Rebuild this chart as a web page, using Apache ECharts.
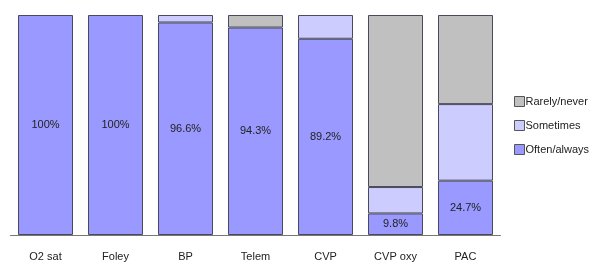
<!DOCTYPE html>
<html><head><meta charset="utf-8">
<script src="https://cdn.jsdelivr.net/npm/echarts@6/dist/echarts.min.js"></script>
<style>html,body{margin:0;padding:0;background:#fff}#c{width:601px;height:274px}</style>
</head><body><div id="c"></div>
<script>
const categories = ['O2 sat','Foley','BP','Telem','CVP','CVP oxy','PAC'];
const oftenAlways = [100, 100, 96.6, 94.3, 89.2, 9.8, 24.7];
const sometimes = [0, 0, 3.4, 0, 10.8, 12.0, 34.8];
const rarelyNever = [0, 0, 0, 5.7, 0, 78.2, 40.5];

const font = 'Liberation Sans';
const nz = arr => arr.map(v => v === 0 ? '-' : v);
const chart = echarts.init(document.getElementById('c'));
const common = {type:'bar', stack:'s', barWidth:55};
const border = {borderColor:'#4a4a5a', borderWidth:1};
chart.setOption({
  animation:false,
  grid:{left:10.5, top:15, width:490, height:220},
  legend:{orient:'vertical', left:509, top:91, itemWidth:10, itemHeight:10, itemGap:13, icon:'rect',
    data:['Rarely/never','Sometimes','Often/always'],
    textStyle:{fontFamily:font, fontSize:11, color:'#222', padding:[0,0,0,-4]},
    itemStyle:{borderColor:'#555', borderWidth:1}},
  xAxis:{type:'category', data:categories,
    axisLine:{lineStyle:{color:'#777'}}, axisTick:{show:false},
    axisLabel:{fontFamily:font, fontSize:11, color:'#222', margin:16}},
  yAxis:{type:'value', min:0, max:100, show:false, splitLine:{show:false}},
  series:[
    Object.assign({}, common, {name:'Often/always', data:nz(oftenAlways), itemStyle:Object.assign({color:'#9999FF'}, border),
      label:{show:true, position:'inside', formatter:p=>p.value+'%', fontFamily:font, fontSize:11, color:'#222'}}),
    Object.assign({}, common, {name:'Sometimes', data:nz(sometimes), itemStyle:Object.assign({color:'#CCCCFF'}, border)}),
    Object.assign({}, common, {name:'Rarely/never', data:nz(rarelyNever), itemStyle:Object.assign({color:'#C0C0C0'}, border)})
  ]
});
</script></body></html>
